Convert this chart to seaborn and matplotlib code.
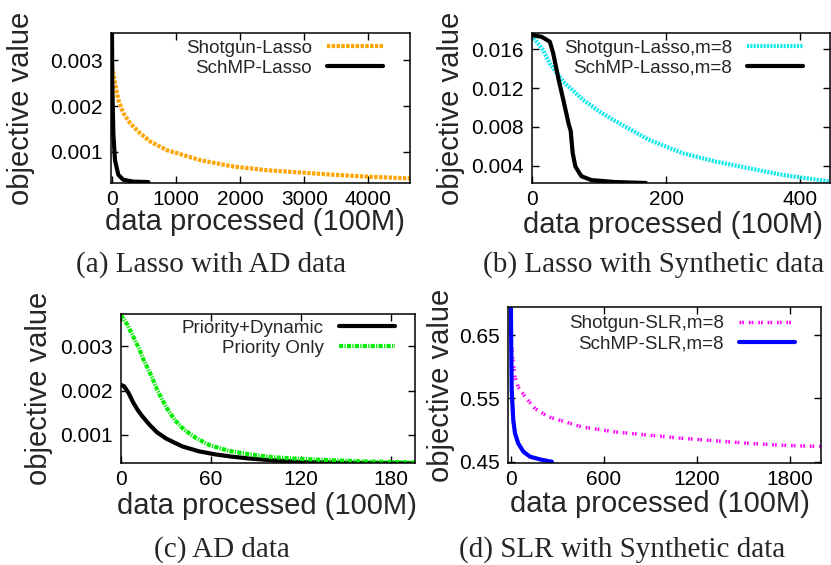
import matplotlib
matplotlib.use("Agg")
import matplotlib.pyplot as plt
import matplotlib.ticker as mticker
import seaborn as sns
import numpy as np

sns.set_style("ticks")
plt.rcParams['font.family'] = ['Liberation Sans', 'DejaVu Sans']

# (a) Lasso with AD data
a_shot_x = [0, 47, 99, 177, 281, 437, 594, 854, 1375, 1896, 2417, 2938, 3458, 3979, 4656]
a_shot_y = [0.00287, 0.00251, 0.00214, 0.00185, 0.00163, 0.00141, 0.00123, 0.00104,
            0.00082, 0.00068, 0.00060, 0.00055, 0.00050, 0.00046, 0.00042]
a_sch_x = [0, 5, 21, 47, 99, 177, 333, 568]
a_sch_y = [0.0037, 0.00251, 0.00141, 0.00082, 0.00050, 0.00039, 0.00035, 0.00034]

# (b) Lasso with Synthetic data
b_shot_x = [0, 17, 27, 47, 77, 101, 126, 175, 225, 274, 323, 373, 444]
b_shot_y = [0.01747, 0.01593, 0.01456, 0.01266, 0.01077, 0.00957, 0.00853, 0.00665,
            0.00528, 0.00441, 0.00373, 0.00304, 0.00235]
b_sch_x = [0, 15, 27, 32, 40, 47, 55, 58, 61, 65, 74, 89, 124, 170]
b_sch_y = [0.0175, 0.0173, 0.0168, 0.0156, 0.0129, 0.0108, 0.0083, 0.0076, 0.0053,
           0.0039, 0.0029, 0.0025, 0.0023, 0.0022]

# (c) AD data
c_dyn_x = [0, 2, 5, 8, 11, 14, 19, 24, 30, 36, 41, 52, 63, 74, 85, 96, 120, 150, 196]
c_dyn_y = [0.00213, 0.00210, 0.00195, 0.00174, 0.00157, 0.00143, 0.00123, 0.00106,
           0.00092, 0.00082, 0.00074, 0.00063, 0.00056, 0.00051, 0.00047, 0.00044,
           0.00039, 0.00037, 0.00036]
c_pri_x = [0, 4, 8, 12, 15, 20, 24, 30, 36, 42, 50, 59, 72, 86, 100, 119, 140, 163, 196]
c_pri_y = [0.0037, 0.0035, 0.00323, 0.00295, 0.0027, 0.00235, 0.00203, 0.00163, 0.00133,
           0.00112, 0.00093, 0.00077, 0.00064, 0.00056, 0.00050, 0.00046, 0.00043,
           0.00040, 0.00038]

# (d) SLR with Synthetic data
d_shot_x = [0, 5, 15, 26, 47, 91, 155, 242, 350, 458, 674, 889, 1105, 1321, 1537, 1753, 2000]
d_shot_y = [0.645, 0.631, 0.605, 0.584, 0.568, 0.553, 0.534, 0.521, 0.513, 0.505, 0.497,
            0.492, 0.487, 0.483, 0.479, 0.476, 0.474]
d_sch_x = [0, 2, 5, 15, 26, 47, 80, 123, 199, 264]
d_sch_y = [0.692, 0.631, 0.563, 0.516, 0.495, 0.479, 0.466, 0.458, 0.453, 0.450]

W, H = 831, 565
fig = plt.figure(figsize=(W / 100, H / 100), dpi=100)


def make_ax(l, r, t, b):
    return fig.add_axes([l / W, 1 - b / H, (r - l) / W, (b - t) / H])


panels = [
    dict(box=(111, 410, 33, 183), xlim=(-15, 4650), ylim=(0.00032, 0.0036),
         xticks=[0, 1000, 2000, 3000, 4000], yticks=[0.001, 0.002, 0.003], yfmt='%.3f',
         series=[(a_shot_x, a_shot_y, 'Shotgun-Lasso', '#FFA500', 3, (0, (0.8, 0.35))),
                 (a_sch_x, a_sch_y, 'SchMP-Lasso', 'black', 3, '-')],
         xl=(0.482, -0.17), yl=(-0.254, 0.5), leg=(0.91, 0.955),
         caption='(a) Lasso with AD data', cap=(211, 265)),
    dict(box=(531.7, 830, 33, 183), xlim=(0, 444), ylim=(0.0022, 0.0177),
         xticks=[0, 200, 400], yticks=[0.004, 0.008, 0.012, 0.016], yfmt='%.3f',
         series=[(b_shot_x, b_shot_y, 'Shotgun-Lasso,m=8', '#10E8EE', 3, (0, (0.5, 0.3))),
                 (b_sch_x, b_sch_y, 'SchMP-Lasso,m=8', 'black', 3, '-')],
         xl=(0.474, -0.19), yl=(-0.224, 0.5), leg=(0.91, 0.955),
         caption='(b) Lasso with Synthetic data', cap=(654, 265)),
    dict(box=(121, 415, 314, 463.3), xlim=(0, 196), ylim=(0.00036, 0.00373),
         xticks=[0, 60, 120, 180], yticks=[0.001, 0.002, 0.003], yfmt='%.3f',
         series=[(c_dyn_x, c_dyn_y, 'Priority+Dynamic', 'black', 3, '-'),
                 (c_pri_x, c_pri_y, 'Priority Only', '#00EE00', 3, (0, (1, 0.3, 0.3, 0.3)))],
         xl=(0.496, -0.19), yl=(-0.231, 0.5), leg=(0.932, 0.962),
         caption='(c) AD data', cap=(222, 550)),
    dict(box=(508.3, 821, 307.3, 463), xlim=(-17, 2000), ylim=(0.448, 0.694),
         xticks=[0, 600, 1200, 1800], yticks=[0.45, 0.55, 0.65], yfmt='%.2f',
         series=[(d_shot_x, d_shot_y, 'Shotgun-SLR,m=8', '#FF00FF', 2.5, (0, (0.5, 0.3, 0.5, 1.4))),
                 (d_sch_x, d_sch_y, 'SchMP-SLR,m=8', '#0000FF', 3, '-')],
         xl=(0.485, -0.173), yl=(-0.17, 0.5), leg=(0.917, 0.949),
         caption='(d) SLR with Synthetic data', cap=(622, 550)),
]

for p in panels:
    ax = make_ax(*p['box'])
    for xs, ys, lab, col, lw, ls in p['series']:
        sns.lineplot(x=xs, y=ys, ax=ax, label=lab, color=col, linewidth=lw,
                     linestyle=ls, estimator=None, sort=False)
    ax.set_xlim(*p['xlim'])
    ax.set_ylim(*p['ylim'])
    ax.set_xticks(p['xticks'])
    ax.set_yticks(p['yticks'])
    ax.xaxis.set_major_formatter(mticker.FormatStrFormatter('%d'))
    ax.yaxis.set_major_formatter(mticker.FormatStrFormatter(p['yfmt']))
    ax.tick_params(direction='in', top=True, right=True, length=5, width=1,
                   labelsize=15, colors='black')
    ax.tick_params(axis='y', pad=6)
    ax.tick_params(axis='x', pad=5)
    for s in ax.spines.values():
        s.set_linewidth(1.1)
        s.set_color('black')
    ax.set_xlabel('data processed (100M)', fontsize=21)
    ax.set_ylabel('objective value', fontsize=21)
    ax.xaxis.set_label_coords(*p['xl'])
    ax.yaxis.set_label_coords(*p['yl'])
    ax.legend(loc='upper right', bbox_to_anchor=p['leg'], frameon=False,
              markerfirst=False, fontsize=13.5, handlelength=3.0, handletextpad=0.8,
              labelspacing=0.15, borderpad=0, borderaxespad=0)
    fig.text(p['cap'][0] / W, 1 - p['cap'][1] / H, p['caption'], ha='center', va='center',
             fontsize=21, family=['Liberation Serif', 'DejaVu Serif'])

fig.savefig('out.png', dpi=100)
